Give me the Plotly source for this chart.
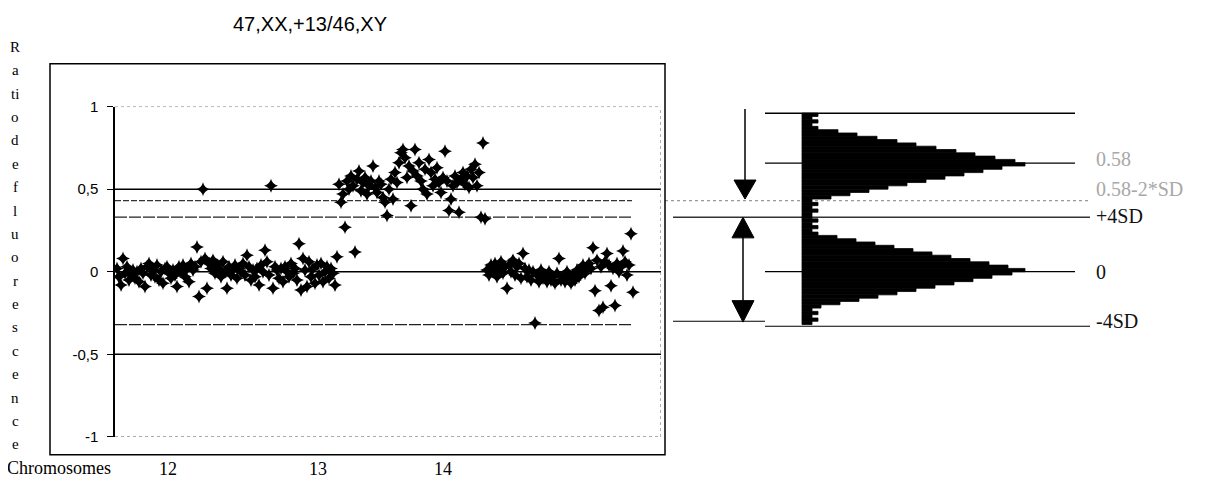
import numpy as np
import plotly.graph_objects as go

# ---------------- data ----------------
title_text = "47,XX,+13/46,XY"
ylabel_letters = ["R", "a", "ti", "o", "d", "e", "f", "l", "u", "o", "r", "e", "s", "c", "e", "n", "c", "e"]
chromosomes = ["12", "13", "14"]
chrom_label_pos = [25.5, 100.5, 163]          # clone index where each label sits

chr12_ratio = [
    0.02, -0.03, -0.08, 0.08, -0.01, 0.03, -0.05, -0.02, 0.01, -0.04,
    0.00, -0.06, 0.02, -0.01, -0.09, 0.03, 0.05, -0.02, 0.01, -0.03,
    0.04, -0.05, 0.00, -0.07, 0.02, 0.03, -0.01, -0.04, 0.01, -0.02,
    -0.09, 0.03, 0.00, 0.04, -0.03, 0.02, -0.06, 0.05, 0.01, 0.03,
    0.15, -0.15, 0.06, 0.50, 0.08, -0.10, 0.05, 0.02, 0.07, -0.01,
    0.04, 0.02, -0.03, 0.06, 0.00, -0.10, 0.03, -0.02, 0.01, 0.04,
    -0.04, 0.02, 0.00, 0.05, -0.02, 0.10, 0.03, -0.05, 0.01, -0.03,
    0.02, -0.08, 0.04, 0.00, 0.13, 0.06, -0.02, 0.52, -0.10, 0.03,
    0.01, -0.04, 0.02, -0.06, 0.03, 0.00, -0.03, 0.05, -0.01, 0.02,
    -0.05, 0.17, -0.11, 0.08, 0.01, -0.09, 0.06, -0.03, 0.02, -0.07,
    0.04, -0.02, 0.05, -0.06, 0.00, 0.03, -0.04, 0.02, -0.01, -0.08,
]
chr13_ratio = [
    0.09, 0.53, 0.42, 0.47, 0.27, 0.55, 0.50, 0.58, 0.52, 0.12,
    0.56, 0.61, 0.49, 0.54, 0.57, 0.47, 0.52, 0.55, 0.64, 0.51,
    0.48, 0.55, 0.53, 0.45, 0.42, 0.34, 0.50, 0.56, 0.44, 0.60,
    0.54, 0.66, 0.72, 0.74, 0.69, 0.57, 0.64, 0.40, 0.61, 0.74,
    0.58, 0.66, 0.55, 0.50, 0.62, 0.47, 0.68, 0.60, 0.52, 0.56,
    0.63, 0.54, 0.48, 0.57, 0.73, 0.55, 0.37, 0.44, 0.52, 0.58,
    0.54, 0.36, 0.56, 0.60, 0.53, 0.58, 0.51, 0.62, 0.57, 0.65,
    0.52, 0.60, 0.33, 0.78, 0.32,
]
chr14_ratio = [
    0.01, -0.02, 0.04, 0.00, 0.05, -0.03, 0.02, 0.06, -0.01, 0.03,
    -0.10, 0.04, 0.00, 0.07, -0.02, 0.03, 0.05, -0.04, 0.11, 0.02,
    -0.03, 0.01, -0.05, 0.00, -0.31, -0.02, -0.06, 0.01, -0.04, -0.02,
    -0.06, 0.00, -0.05, -0.03, -0.07, -0.01, 0.08, -0.05, -0.03, -0.06,
    0.00, -0.04, -0.07, -0.02, -0.05, 0.01, -0.03, 0.02, 0.04, -0.01,
    0.03, 0.05, 0.02, 0.145, -0.115, 0.07, -0.235, 0.03, -0.215, 0.06,
    0.11, 0.04, -0.085, 0.02, -0.205, 0.05, 0.00, 0.03, 0.125, 0.06,
    -0.02, 0.04, 0.23, -0.125,
]

# reference levels of the ratio
level_trisomy = 0.5
level_trisomy_minus2sd = 0.43
level_plus4sd = 0.33
level_minus4sd = -0.32

# schematic distributions on the right (bin centre, count)
hist_bins = [
    0.95, 0.93, 0.91, 0.89,
    0.87, 0.85, 0.83, 0.81, 0.79, 0.77, 0.75, 0.73, 0.71, 0.69, 0.67, 0.65,
    0.63, 0.61, 0.59, 0.57, 0.55, 0.53, 0.51, 0.49, 0.47, 0.45,
    0.43, 0.41, 0.39, 0.37, 0.35, 0.33, 0.31, 0.29, 0.27, 0.25,
    0.23, 0.21, 0.19, 0.17, 0.15, 0.13, 0.11, 0.09, 0.07, 0.05, 0.03, 0.01,
    -0.01, -0.03, -0.05, -0.07, -0.09, -0.11, -0.13, -0.15, -0.17, -0.19, -0.21,
    -0.23, -0.25, -0.27, -0.29, -0.31,
]
hist_counts = [
    16, 10, 16, 10,
    16, 36, 55, 75, 95, 114, 134, 154, 173, 193, 213, 223,
    200, 181, 162, 143, 124, 105, 86, 67, 48, 29,
    10, 16, 10, 16, 10, 10, 16, 10, 16, 10,
    16, 35, 54, 73, 92, 111, 130, 149, 168, 187, 206, 223,
    210, 190, 171, 152, 133, 114, 95, 76, 57, 38, 19,
    10, 16, 10, 16, 10,
]
right_labels = ["0.58", "0.58-2*SD", "+4SD", "0", "-4SD"]
right_label_y = [0.68, 0.50, 0.335, 0.0, -0.30]
right_label_color = ["#a8a8a8", "#a8a8a8", "#111111", "#111111", "#111111"]

# ---------------- figure ----------------
W, H = 1226, 488
# page offset / scale correction measured from the rendered output
OX, OY, SY = 8.0, 15.0, 0.97
def px(xp):
    return (xp - OX) / W
def py(yp):
    return (H - (yp - OY) / SY) / H

n12, n13, n14 = len(chr12_ratio), len(chr13_ratio), len(chr14_ratio)
x_all = np.arange(n12 + n13 + n14)
y_all = chr12_ratio + chr13_ratio + chr14_ratio

fig = go.Figure()
fig.add_trace(go.Scatter(
    x=x_all, y=y_all, mode="markers", xaxis="x", yaxis="y",
    marker=dict(symbol="star-diamond", size=10, color="black"),
    showlegend=False, hoverinfo="skip"))

fig.add_trace(go.Bar(
    x=hist_counts, y=hist_bins, orientation="h", width=0.02,
    xaxis="x2", yaxis="y", marker=dict(color="black", line=dict(width=0.8, color="black")),
    showlegend=False, hoverinfo="skip"))

XMIN, XMAX = -1, 272
x_dash_end = 257.5
shapes = []
def hline(y, x0, x1, xref="x", color="black", width=1.5, dash="solid"):
    shapes.append(dict(type="line", xref=xref, yref="y", x0=x0, x1=x1, y0=y, y1=y,
                       line=dict(color=color, width=width, dash=dash), layer="below"))

# left panel lines
hline(level_trisomy, XMIN, XMAX)
hline(0, XMIN, XMAX)
hline(-0.5, XMIN, XMAX)
hline(level_trisomy_minus2sd, XMIN, x_dash_end, color="#333333", width=1.2, dash="6px,2px")
hline(level_plus4sd, XMIN, x_dash_end, color="#222222", width=1.3, dash="12px,2px")
hline(level_minus4sd, XMIN, x_dash_end, color="#222222", width=1.3, dash="12px,2px")
hline(1, XMIN, XMAX, color="#777777", width=1, dash="dot")
hline(-1, XMIN, XMAX, color="#777777", width=1, dash="dot")
shapes.append(dict(type="line", xref="x", yref="y", x0=XMAX, x1=XMAX, y0=-1, y1=1,
                   line=dict(color="#777777", width=1.2, dash="dot")))

# right panel lines (x2 units: 0 = base of distributions)
hline(level_trisomy_minus2sd, -167, 288, xref="x2", color="#999999", width=1.2, dash="dot")
hline(0.96, -37, 273, xref="x2")
hline(0.657, -37, 273, xref="x2", width=1.2)
hline(level_plus4sd, -129, 288, xref="x2", color="#333333", width=1.6)
hline(0, -37, 273, xref="x2", width=1.2)
hline(-0.30, -129, -37, xref="x2", width=1.2)
hline(-0.33, -37, 288, xref="x2", width=1.2)

# arrows
shapes.append(dict(type="line", xref="x2", yref="y", x0=-57, x1=-57, y0=0.985, y1=0.55,
                   line=dict(color="black", width=1.5)))
shapes.append(dict(type="path", xref="x2", yref="y",
                   path="M -68,0.555 L -46,0.555 L -57,0.44 Z",
                   fillcolor="black", line=dict(color="black", width=1)))
shapes.append(dict(type="line", xref="x2", yref="y", x0=-59, x1=-59, y0=0.21, y1=-0.18,
                   line=dict(color="black", width=1.5)))
shapes.append(dict(type="path", xref="x2", yref="y",
                   path="M -70,0.205 L -48,0.205 L -59,0.33 Z",
                   fillcolor="black", line=dict(color="black", width=1)))
shapes.append(dict(type="path", xref="x2", yref="y",
                   path="M -70,-0.175 L -48,-0.175 L -59,-0.305 Z",
                   fillcolor="black", line=dict(color="black", width=1)))

# outer frame of the left chart
shapes.append(dict(type="rect", xref="paper", yref="paper",
                   x0=px(50), x1=px(665), y0=py(455), y1=py(62),
                   line=dict(color="black", width=1.5)))

serif = "Liberation Serif, Times New Roman"
annotations = []
annotations.append(dict(text=title_text, xref="paper", yref="paper", x=px(310), y=py(22),
                        xanchor="center", yanchor="middle", showarrow=False,
                        font=dict(family="Arial, Liberation Sans", size=20, color="black")))
for k, letter in enumerate(ylabel_letters):
    annotations.append(dict(text=letter, xref="paper", yref="paper", x=px(15), y=py(45 + 23.5 * k),
                            xanchor="center", yanchor="middle", showarrow=False,
                            font=dict(family=serif, size=15, color="black")))
annotations.append(dict(text="Chromosomes", xref="paper", yref="paper", x=px(59), y=py(468),
                        xanchor="center", yanchor="middle", showarrow=False,
                        font=dict(family=serif, size=18, color="black")))
for lab, yv, col in zip(right_labels, right_label_y, right_label_color):
    annotations.append(dict(text=lab, xref="paper", yref="y", x=px(1094), y=yv,
                            xanchor="left", yanchor="middle", showarrow=False,
                            font=dict(family=serif, size=20, color=col)))

# x2: one unit per pixel, 0 at the base of the distributions (x = 802 px)
x2_left_px, x2_right_px, x2_zero_px = 664, W + OX, 802
fig.update_layout(
    width=W, height=H, margin=dict(l=0, r=0, t=0, b=0),
    paper_bgcolor="white", plot_bgcolor="white",
    shapes=shapes, annotations=annotations, showlegend=False,
    xaxis=dict(domain=[px(115), px(661)], range=[XMIN, XMAX], showgrid=False, zeroline=False,
               showline=False, tickmode="array", tickvals=chrom_label_pos, ticktext=chromosomes,
               ticks="", ticklabelstandoff=19,
               tickfont=dict(family=serif, size=18, color="black")),
    yaxis=dict(domain=[py(437), py(105)], range=[-1, 1], showgrid=False, zeroline=False,
               showline=True, linecolor="black", linewidth=1.5, anchor="x",
               tickmode="array", tickvals=[-1, -0.5, 0, 0.5, 1],
               ticktext=["-1", "-0,5", "0", "0,5", "1"], ticks="outside", ticklen=6,
               tickcolor="black", ticklabelstandoff=6,
               tickfont=dict(family="Arial, Liberation Sans", size=15, color="black")),
    xaxis2=dict(domain=[px(x2_left_px), 1],
                range=[x2_left_px - x2_zero_px, x2_right_px - x2_zero_px],
                anchor="y", visible=False, showgrid=False, zeroline=False),
)

fig.write_html("out.html")
